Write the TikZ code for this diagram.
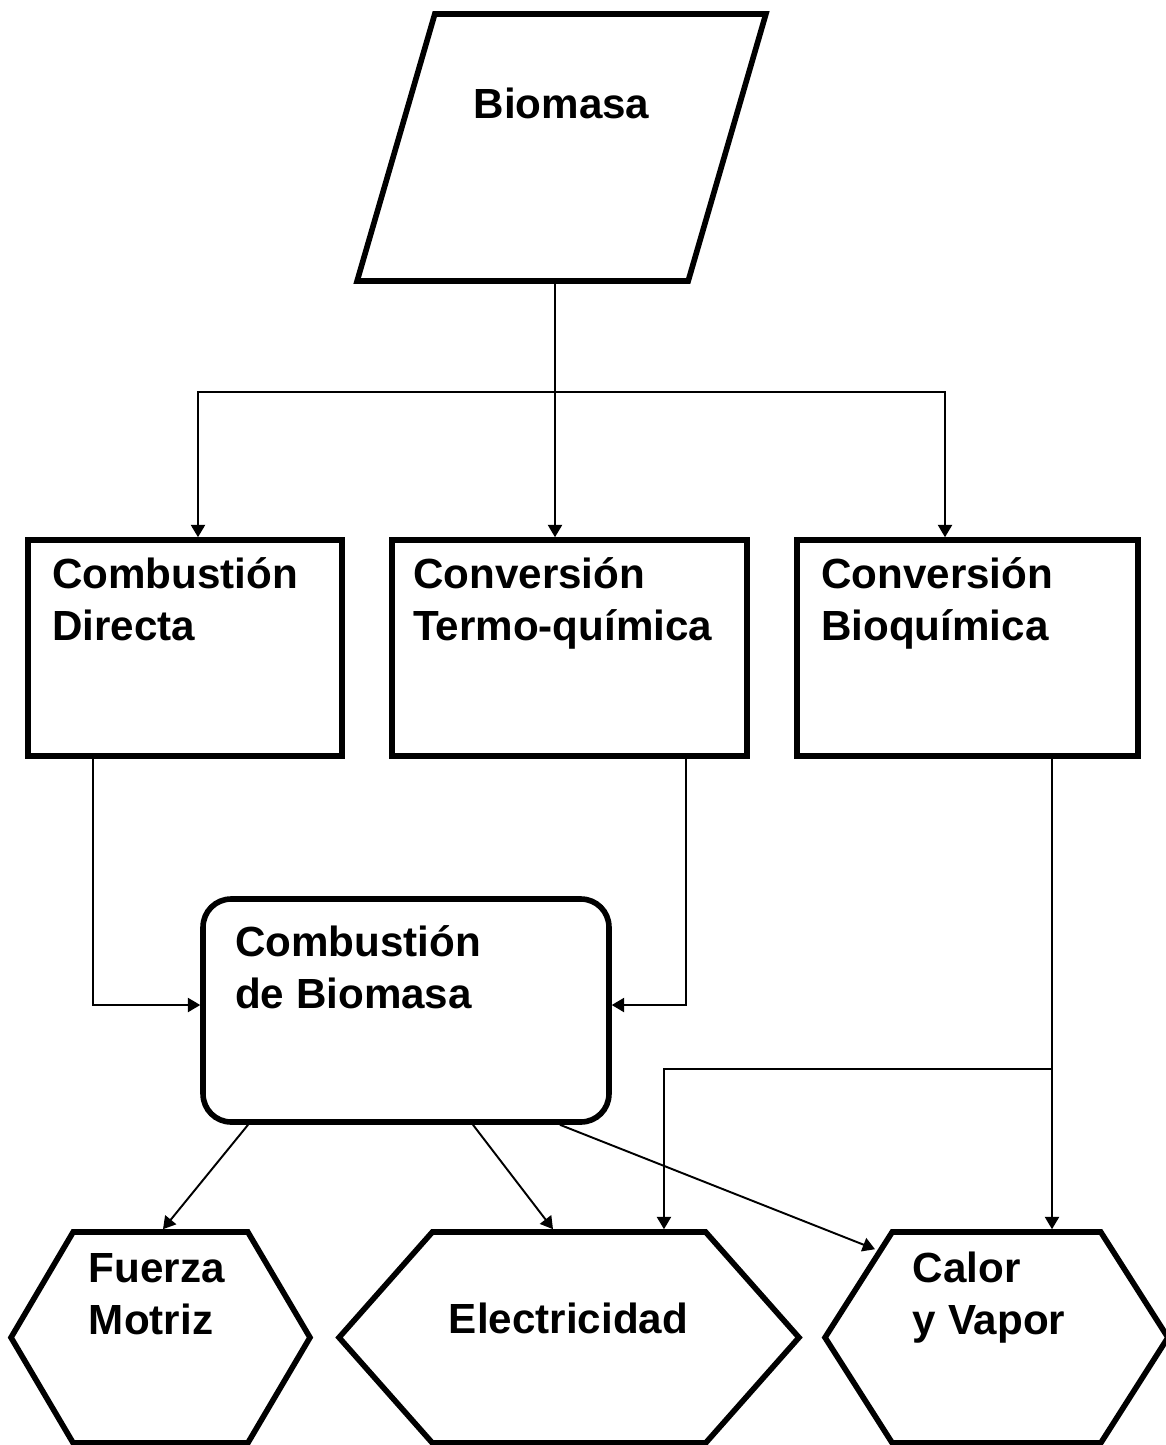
\documentclass[tikz,border=0pt]{standalone}
\usepackage{fontspec}
\setmainfont{Liberation Sans}
\usetikzlibrary{arrows.meta, positioning, calc, shapes.geometric, shapes.symbols}
\tikzset{
    flowchart/.style={>={Triangle[length=7pt, width=8pt]}, line width=1.1pt,
        font=\bfseries\fontsize{24}{29.6}\selectfont, x=0.02cm, y=-0.02cm},
    datum/.style={trapezium, trapezium left angle=66, trapezium right angle=114,
        trapezium stretches=true, draw, line width=3.2pt,
        minimum width=8.18cm, minimum height=5.34cm, inner sep=0pt,
        text height=0.62cm, text depth=1.8cm},
    process/.style={rectangle, draw, line width=3.2pt, minimum height=4.32cm, inner sep=0pt},
    combustor/.style={process, rounded corners=0.56cm, minimum width=8.12cm, minimum height=4.46cm},
    product/.style={signal, signal to=west and east, draw, line width=3.2pt,
        minimum height=4.22cm, inner sep=0pt},
    % text sitting in the top left corner of a shape
    tag/.style={anchor=north west, inner sep=0pt, align=left},
}
\begin{document}
\begin{tikzpicture}[flowchart]
    \useasboundingbox (0,0) rectangle (1166,1445);

    \node[datum] (biomasa) at (561.5,147.5) {Biomasa};
    \node[process, minimum width=6.28cm,
          label={[tag, xshift=0.52cm, yshift=-0.38cm]north west:{Combustión\\Directa}}] (combdir) at (185,648) {};
    \node[process, minimum width=7.1cm,
          label={[tag, xshift=0.46cm, yshift=-0.38cm]north west:{Conversión\\Termo-química}}] (termo) at (569.5,648) {};
    \node[process, minimum width=6.82cm,
          label={[tag, xshift=0.52cm, yshift=-0.38cm]north west:{Conversión\\Bioquímica}}] (bioq) at (967.5,648) {};
    \node[combustor,
          label={[tag, xshift=0.68cm, yshift=-0.56cm]north west:{Combustión\\de Biomasa}}] (combbio) at (406,1010.5) {};
    \node[product, minimum width=5.98cm, signal pointer angle=119,
          label={[tag, xshift=-1.45cm, yshift=-0.46cm]north:{Fuerza\\Motriz}}] (fuerza) at (160.5,1337.5) {};
    \node[product, minimum width=9.2cm, signal pointer angle=97,
          label={[tag, xshift=-2.42cm, yshift=-1.46cm]north:Electricidad}] (elec) at (569,1337.5) {};
    \node[product, minimum width=6.86cm, signal pointer angle=115,
          label={[tag, xshift=-1.69cm, yshift=-0.44cm]north:{Calor\\y Vapor}}] (calor) at (996.5,1337.5) {};

    \coordinate (split) at (555,392);
    \coordinate (tee)   at (1052,1069);

    % the three routes
    \draw (biomasa.south -| split) -- (split);
    \draw[->] (split) -- (termo.north -| split);
    \draw[->] (split) -| ([xshift=0.26cm]combdir.north);
    \draw[->] (split) -| ([xshift=-0.45cm]bioq.north);

    % into the burner
    \draw[->] ([xshift=-1.84cm]combdir.south) |- ([yshift=0.11cm]combbio.west);
    \draw[->] ([xshift=2.33cm]termo.south) |- ([yshift=0.11cm]combbio.east);

    % biochemical route goes straight on
    \draw[->] (bioq.south -| tee) -- (calor.north -| tee);
    \draw[->] (tee) -| ([xshift=1.9cm]elec.north);

    % products
    \draw[->] ([xshift=-3.16cm]combbio.south) -- ([xshift=0.05cm]fuerza.north);
    \draw[->] ([xshift=1.34cm]combbio.south) -- ([xshift=-0.32cm]elec.north);
    \draw[->] ([xshift=3.08cm]combbio.south) -- ([xshift=-2.43cm, yshift=-0.4cm]calor.north);
\end{tikzpicture}
\end{document}
